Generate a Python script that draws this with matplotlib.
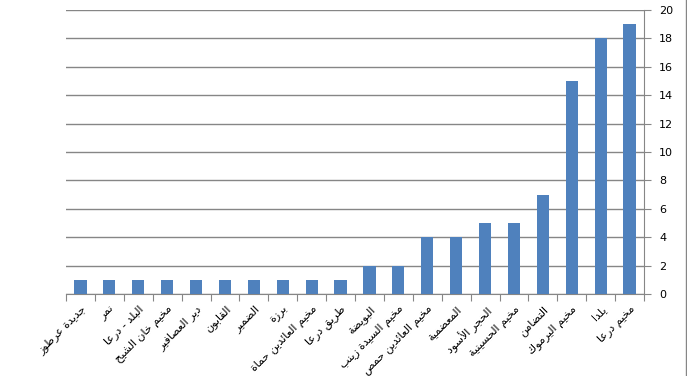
import matplotlib
matplotlib.use("Agg")
import matplotlib.pyplot as plt
from matplotlib.lines import Line2D

# Arabic presentation forms: isolated, final, initial, medial
FORMS = {
    'ء': ('\uFE80', None, None, None),
    'آ': ('\uFE81', '\uFE82', None, None),
    'أ': ('\uFE83', '\uFE84', None, None),
    'ؤ': ('\uFE85', '\uFE86', None, None),
    'إ': ('\uFE87', '\uFE88', None, None),
    'ئ': ('\uFE89', '\uFE8A', '\uFE8B', '\uFE8C'),
    'ا': ('\uFE8D', '\uFE8E', None, None),
    'ب': ('\uFE8F', '\uFE90', '\uFE91', '\uFE92'),
    'ة': ('\uFE93', '\uFE94', None, None),
    'ت': ('\uFE95', '\uFE96', '\uFE97', '\uFE98'),
    'ث': ('\uFE99', '\uFE9A', '\uFE9B', '\uFE9C'),
    'ج': ('\uFE9D', '\uFE9E', '\uFE9F', '\uFEA0'),
    'ح': ('\uFEA1', '\uFEA2', '\uFEA3', '\uFEA4'),
    'خ': ('\uFEA5', '\uFEA6', '\uFEA7', '\uFEA8'),
    'د': ('\uFEA9', '\uFEAA', None, None),
    'ذ': ('\uFEAB', '\uFEAC', None, None),
    'ر': ('\uFEAD', '\uFEAE', None, None),
    'ز': ('\uFEAF', '\uFEB0', None, None),
    'س': ('\uFEB1', '\uFEB2', '\uFEB3', '\uFEB4'),
    'ش': ('\uFEB5', '\uFEB6', '\uFEB7', '\uFEB8'),
    'ص': ('\uFEB9', '\uFEBA', '\uFEBB', '\uFEBC'),
    'ض': ('\uFEBD', '\uFEBE', '\uFEBF', '\uFEC0'),
    'ط': ('\uFEC1', '\uFEC2', '\uFEC3', '\uFEC4'),
    'ظ': ('\uFEC5', '\uFEC6', '\uFEC7', '\uFEC8'),
    'ع': ('\uFEC9', '\uFECA', '\uFECB', '\uFECC'),
    'غ': ('\uFECD', '\uFECE', '\uFECF', '\uFED0'),
    'ف': ('\uFED1', '\uFED2', '\uFED3', '\uFED4'),
    'ق': ('\uFED5', '\uFED6', '\uFED7', '\uFED8'),
    'ك': ('\uFED9', '\uFEDA', '\uFEDB', '\uFEDC'),
    'ل': ('\uFEDD', '\uFEDE', '\uFEDF', '\uFEE0'),
    'م': ('\uFEE1', '\uFEE2', '\uFEE3', '\uFEE4'),
    'ن': ('\uFEE5', '\uFEE6', '\uFEE7', '\uFEE8'),
    'ه': ('\uFEE9', '\uFEEA', '\uFEEB', '\uFEEC'),
    'و': ('\uFEED', '\uFEEE', None, None),
    'ى': ('\uFEEF', '\uFEF0', None, None),
    'ي': ('\uFEF1', '\uFEF2', '\uFEF3', '\uFEF4'),
}
LAM_ALEF = {'ا': ('\uFEFB', '\uFEFC'), 'أ': ('\uFEF7', '\uFEF8'),
            'إ': ('\uFEF9', '\uFEFA'), 'آ': ('\uFEF5', '\uFEF6')}


def joins_left(ch):
    # letter can connect to the following letter
    return ch in FORMS and FORMS[ch][2] is not None


def shape(text):
    # merge lam-alef first
    chars = []
    i = 0
    while i < len(text):
        if text[i] == 'ل' and i + 1 < len(text) and text[i + 1] in LAM_ALEF:
            chars.append(('LA', text[i + 1]))
            i += 2
        else:
            chars.append(text[i])
            i += 1
    out = []
    for k, c in enumerate(chars):
        prev = chars[k - 1] if k > 0 else None
        nxt = chars[k + 1] if k + 1 < len(chars) else None
        prev_joins = isinstance(prev, str) and joins_left(prev)
        if isinstance(c, tuple):
            out.append(LAM_ALEF[c[1]][1 if prev_joins else 0])
            continue
        if c not in FORMS:
            out.append(c)
            continue
        iso, fin, ini, med = FORMS[c]
        next_arabic = nxt is not None and (isinstance(nxt, tuple) or nxt in FORMS)
        can_next = ini is not None and next_arabic
        if prev_joins and can_next:
            out.append(med)
        elif prev_joins:
            out.append(fin or iso)
        elif can_next:
            out.append(ini)
        else:
            out.append(iso)
    return ''.join(out)[::-1]


places = ["جديدة عرطوز", "نمر", "البلد - درعا", "مخيم خان الشيح", "دير العصافير",
          "القابون", "الضمير", "برزة", "مخيم العائدين حماة", "طريق درعا",
          "البويضة", "مخيم السيدة زينب", "مخيم العائدين حمص", "المعضمية",
          "الحجر الأسود", "مخيم الحسينية", "التضامن", "مخيم اليرموك",
          "يلدا", "مخيم درعا"]
counts = [1, 1, 1, 1, 1, 1, 1, 1, 1, 1, 2, 2, 4, 4, 5, 5, 7, 15, 18, 19]

fig = plt.figure(figsize=(6.87, 3.76), dpi=100)
ax = fig.add_axes([66 / 687, 1 - 294 / 376, (644 - 66) / 687, (294 - 10) / 376])

x = list(range(len(places)))
ax.bar(x, counts, width=0.42, color="#4F81BD", zorder=3)

ax.set_xlim(-0.5, len(places) - 0.5)
ax.set_ylim(0, 20)
ax.set_yticks(range(0, 21, 2))
ax.yaxis.tick_right()
ax.grid(axis="y", color="#868686", linewidth=1, zorder=0)

ax.set_xticks([i - 0.5 for i in range(len(places) + 1)], minor=False)
ax.set_xticklabels([])
ax.set_xticks(x, minor=True)
ax.set_xticklabels([shape(p) for p in places], minor=True, rotation=45,
                   ha="right", va="top", rotation_mode="anchor",
                   fontsize=8, family=["DejaVu Sans"])
ax.tick_params(axis="x", which="major", length=5, color="#868686")
ax.tick_params(axis="x", which="minor", length=0, pad=7)
ax.tick_params(axis="y", length=5, color="#868686", labelsize=8, pad=6)

for s in ["top", "left"]:
    ax.spines[s].set_visible(False)
for s in ["right", "bottom"]:
    ax.spines[s].set_color("#868686")

# outer chart border on the right edge
fig.add_artist(Line2D([685.5 / 687, 685.5 / 687], [0, 1], color="#868686", linewidth=1))

fig.savefig("out.png", dpi=100)
